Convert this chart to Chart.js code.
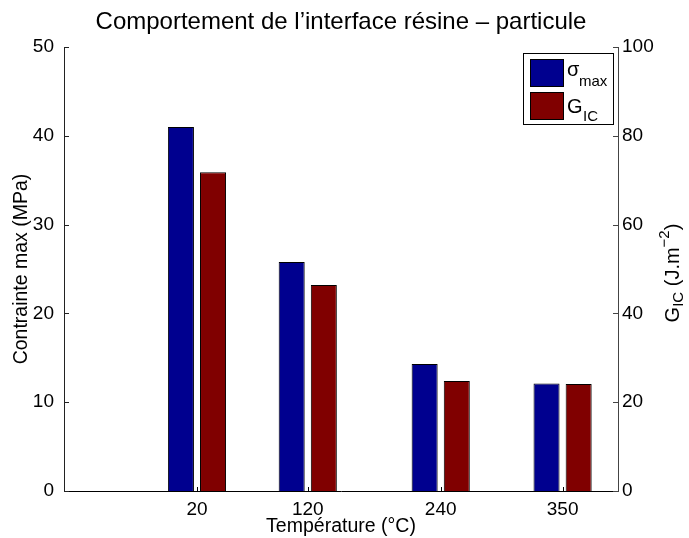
<!DOCTYPE html>
<html>
<head>
<meta charset="utf-8">
<script src="https://cdn.jsdelivr.net/npm/chart.js@4"></script>
<style>
    html, body { margin: 0; padding: 0; background: #fff; }
    #wrap { width: 689px; height: 538px; }
</style>
</head>
<body>
<div id="wrap"><canvas id="interfaceChart" width="689" height="538"></canvas></div>
<script>
// temperatures (°C) and the two measured quantities
const temperatures = [20, 120, 240, 350];
const sigmaMax = [41.0, 25.8, 14.3, 12.1];     // MPa, left axis
const gIC = [71.8, 46.4, 24.8, 24.1];          // J.m-2, right axis
const leftTicks = [0, 10, 20, 30, 40, 50];
const rightTicks = [0, 20, 40, 60, 80, 100];

const FONT = "'Liberation Sans', Arial, Helvetica, sans-serif";
const BLUE = "#00008f";
const RED = "#800000";

function points(values) {
    return temperatures.map(function (t, i) {
        return { x: t, y: values[i] };
    });
}

// matlab-like decorations: inward ticks, legend box, right axis title
const decorations = {
    id: "decorations",
    afterDraw: function (chart) {
        const ctx = chart.ctx;
        const area = chart.chartArea;
        const sx = chart.scales.x;
        const sy = chart.scales.y;
        const sy1 = chart.scales.y1;

        ctx.save();
        ctx.lineWidth = 1;
        ctx.strokeStyle = "#222";
        leftTicks.forEach(function (v) {
            const py = Math.round(sy.getPixelForValue(v)) + 0.5;
            ctx.beginPath();
            ctx.moveTo(area.left, py);
            ctx.lineTo(area.left + 5, py);
            ctx.stroke();
        });
        ctx.strokeStyle = "#444";
        rightTicks.forEach(function (v) {
            const py = Math.round(sy1.getPixelForValue(v)) + 0.5;
            ctx.beginPath();
            ctx.moveTo(area.right, py);
            ctx.lineTo(area.right - 5, py);
            ctx.stroke();
        });
        ctx.strokeStyle = "#000";
        temperatures.forEach(function (t) {
            const px = Math.round(sx.getPixelForValue(t)) + 0.5;
            ctx.beginPath();
            ctx.moveTo(px, area.bottom);
            ctx.lineTo(px, area.bottom - 4);
            ctx.stroke();
        });

        // legend
        const lx = 523.5, ly = 53.5;
        ctx.fillStyle = "#fff";
        ctx.fillRect(lx, ly, 90, 71);
        ctx.strokeStyle = "#000";
        ctx.strokeRect(lx, ly, 90, 71);
        ctx.fillStyle = BLUE;
        ctx.fillRect(lx + 7, ly + 6, 33, 27);
        ctx.strokeRect(lx + 7, ly + 6, 33, 27);
        ctx.fillStyle = RED;
        ctx.fillRect(lx + 7, ly + 39, 33, 27);
        ctx.strokeRect(lx + 7, ly + 39, 33, 27);

        ctx.fillStyle = "#000";
        ctx.textBaseline = "alphabetic";
        ctx.textAlign = "left";
        ctx.font = "20px " + FONT;
        ctx.fillText("\u03c3", 567, 76);
        ctx.fillText("G", 567, 113);
        ctx.font = "15px " + FONT;
        ctx.fillText("max", 579, 86);
        ctx.fillText("IC", 583, 121);

        // right axis title, read bottom to top
        const parts = [
            { t: "G", size: 20, dy: 0 },
            { t: "IC", size: 15, dy: 6 },
            { t: " (J.m", size: 20, dy: 0 },
            { t: "\u22122", size: 15, dy: -8 },
            { t: ")", size: 20, dy: 0 },
        ];
        let total = 0;
        parts.forEach(function (p) {
            ctx.font = p.size + "px " + FONT;
            p.w = ctx.measureText(p.t).width;
            total += p.w;
        });
        ctx.translate(673, (area.top + area.bottom) / 2 + 4);
        ctx.rotate(-Math.PI / 2);
        ctx.textBaseline = "middle";
        let x = -total / 2;
        parts.forEach(function (p) {
            ctx.font = p.size + "px " + FONT;
            ctx.fillText(p.t, x, p.dy);
            x += p.w;
        });
        ctx.restore();
    },
};

const ctx = document.getElementById("interfaceChart").getContext("2d");
const interfaceChart = new Chart(ctx, {
    type: "bar",
    data: {
        datasets: [
            {
                label: "\u03c3max",
                data: points(sigmaMax),
                yAxisID: "y",
                backgroundColor: BLUE,
                borderColor: "#000",
                borderWidth: 1,
                barPercentage: 0.81,
                categoryPercentage: 0.58,
            },
            {
                label: "GIC",
                data: points(gIC),
                yAxisID: "y1",
                backgroundColor: RED,
                borderColor: "#000",
                borderWidth: 1,
                barPercentage: 0.81,
                categoryPercentage: 0.58,
            },
        ],
    },
    options: {
        responsive: false,
        animation: false,
        events: [],
        layout: { padding: 0 },
        plugins: {
            legend: { display: false },
            tooltip: { enabled: false },
            title: {
                display: true,
                fullSize: false,
                text: "Comportement de l\u2019interface r\u00e9sine \u2013 particule",
                color: "#000",
                font: { family: FONT, size: 24, weight: "normal", lineHeight: 1.2 },
                padding: { top: 8, bottom: 10.2 },
            },
        },
        scales: {
            x: {
                type: "linear",
                min: -100,
                max: 400,
                offset: false,
                grid: { display: false, drawTicks: false },
                border: { display: true, color: "#000", width: 1 },
                afterBuildTicks: function (scale) {
                    scale.ticks = temperatures.map(function (t) {
                        return { value: t };
                    });
                },
                ticks: {
                    color: "#000",
                    padding: 7,
                    font: { family: FONT, size: 19 },
                    callback: function (value) {
                        return String(value);
                    },
                },
                title: {
                    display: true,
                    text: "Temp\u00e9rature (\u00b0C)",
                    color: "#000",
                    font: { family: FONT, size: 19.5, lineHeight: 1.2 },
                    padding: { top: 0, bottom: 0 },
                },
                afterFit: function (scale) {
                    scale.height = 47;
                },
            },
            y: {
                position: "left",
                min: 0,
                max: 50,
                grid: { display: false, drawTicks: false },
                border: { display: true, color: "#222", width: 1 },
                afterBuildTicks: function (scale) {
                    scale.ticks = leftTicks.map(function (v) {
                        return { value: v };
                    });
                },
                ticks: {
                    color: "#000",
                    padding: 10,
                    font: { family: FONT, size: 19 },
                },
                title: {
                    display: true,
                    text: "Contrainte max (MPa)",
                    color: "#000",
                    font: { family: FONT, size: 19.5, lineHeight: 1.2 },
                    padding: { top: 10.3, bottom: 0 },
                },
                afterFit: function (scale) {
                    scale.width = 64;
                },
            },
            y1: {
                position: "right",
                min: 0,
                max: 100,
                grid: { display: false, drawTicks: false },
                border: { display: true, color: "#444", width: 1 },
                afterBuildTicks: function (scale) {
                    scale.ticks = rightTicks.map(function (v) {
                        return { value: v };
                    });
                },
                ticks: {
                    color: "#000",
                    padding: 4,
                    font: { family: FONT, size: 19 },
                },
                afterFit: function (scale) {
                    scale.width = 71;
                },
            },
        },
    },
    plugins: [decorations],
});
</script>
</body>
</html>
